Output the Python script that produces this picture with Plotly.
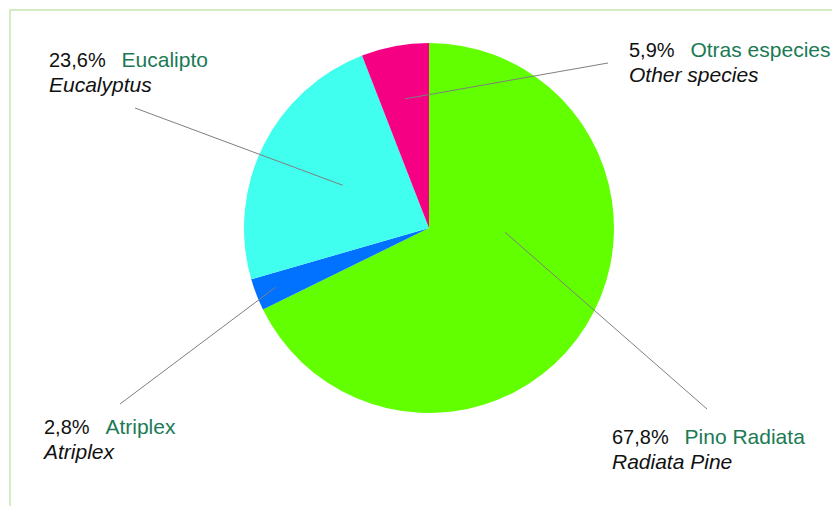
import math
import plotly.graph_objects as go

# Species share of planted area (%)
species_es = ["Pino Radiata", "Atriplex", "Eucalipto", "Otras especies"]
species_en = ["Radiata Pine", "Atriplex", "Eucalyptus", "Other species"]
shares = [67.8, 2.8, 23.6, 5.9]
colors = ["#62FF00", "#0072FF", "#40FFEE", "#F50082"]

W, H = 832, 506
CX, CY, R = 429, 228, 185  # pie centre / radius in pixels


def px(x, y):
    return x / W, 1 - y / H


# label placement: (left x, first-line centre y), leader start point,
# and the anchor inside the slice as (angle override or None, radius fraction)
label_pos = [(610, 436), (40, 426), (47, 59), (627, 49)]
leader_start = [(707, 409), (120, 404), (135, 108), (608, 63)]
anchor = [(93.0, 0.41), (None, 0.89), (None, 0.52), (None, 0.71)]

fig = go.Figure()
fig.add_trace(go.Pie(
    values=shares,
    labels=species_es,
    marker=dict(colors=colors, line=dict(width=0)),
    sort=False,
    direction="clockwise",
    rotation=0,
    textinfo="none",
    hoverinfo="label+percent",
    showlegend=False,
    domain=dict(x=[(CX - R) / W, (CX + R) / W],
                y=[1 - (CY + R) / H, 1 - (CY - R) / H]),
))

total = sum(shares)
cum = 0.0
shapes = []
annotations = []
for i, v in enumerate(shares):
    mid = (cum + v / 2) / total * 360.0
    cum += v
    ang, frac = anchor[i]
    if ang is None:
        ang = mid
    a = math.radians(ang)
    ex = CX + frac * R * math.sin(a)
    ey = CY - frac * R * math.cos(a)
    x0, y0 = px(*leader_start[i])
    x1, y1 = px(ex, ey)
    shapes.append(dict(type="line", xref="paper", yref="paper",
                       x0=x0, y0=y0, x1=x1, y1=y1,
                       line=dict(color="#7f7f7f", width=1)))
    pct = f"{v:.1f}".replace(".", ",") + "%"
    lx, ly = label_pos[i]
    ax_, ay_ = px(lx, ly - 13.5)
    annotations.append(dict(
        xref="paper", yref="paper", x=ax_, y=ay_,
        xanchor="left", yanchor="top", align="left", showarrow=False,
        text=(f"<span style='font-size:20px'>{pct}</span>&nbsp;&nbsp;&nbsp;"
              f"<span style='font-size:21px;color:#1b7a55'>{species_es[i]}</span>"
              f"<br><span style='font-size:21px'><i>{species_en[i]}</i></span>"),
        font=dict(family="Liberation Sans, Arial, sans-serif", size=19, color="#111111"),
    ))

# light green frame around the chart
fx0, fy0 = px(10, 10)
shapes.append(dict(type="rect", xref="paper", yref="paper",
                   x0=fx0, y0=-0.05, x1=1.05, y1=fy0,
                   line=dict(color="#d4ecc2", width=2), fillcolor="rgba(0,0,0,0)",
                   layer="below"))

fig.update_layout(
    width=W, height=H,
    margin=dict(l=0, r=0, t=0, b=0),
    paper_bgcolor="white", plot_bgcolor="white",
    shapes=shapes, annotations=annotations,
)

fig.write_html("out.html")
